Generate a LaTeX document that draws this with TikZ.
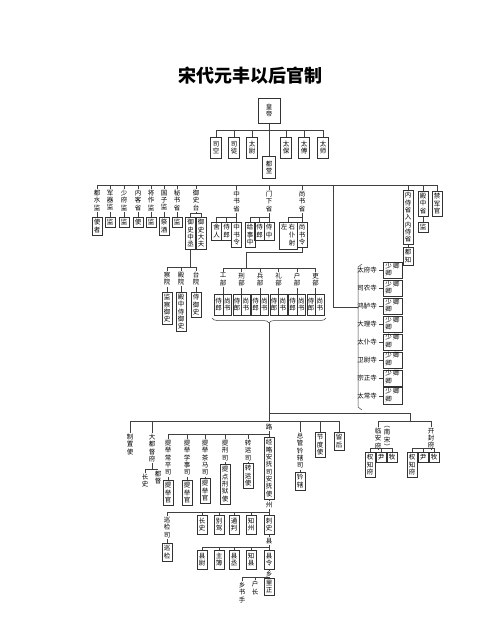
\documentclass[tikz,border=0pt]{standalone}
\usepackage{fontspec}
\newfontfamily\cjk{Noto Sans CJK SC}
\usetikzlibrary{decorations.pathreplacing}
\makeatletter
\newcommand\vt[1]{\edef\vt@arg{#1}\expandafter\vt@do\expandafter{\vt@arg}}
\newcommand\vt@do[1]{\gdef\vt@acc{}\@tfor\vt@c:=#1\do{\xdef\vt@acc{\unexpanded\expandafter{\vt@acc}\ifx\vt@acc\@empty\else\noexpand\\\fi\vt@c}}\vt@acc}
\makeatother
\tikzset{
  every node/.style={font=\cjk\fontsize{6.5}{7.3}\selectfont, inner sep=0pt, align=center, text=black},
  bx/.style={draw=black!80, line width=0.5pt, inner xsep=1.6pt, inner ysep=2.2pt, anchor=north, minimum width=9.5pt},
  lb/.style={inner xsep=1pt, inner ysep=1pt, anchor=north},
  ln/.style={line width=0.5pt, draw=black!75},
}
\begin{document}
\begin{tikzpicture}[x=1pt,y=-1pt]
\useasboundingbox (0,0) rectangle (499,619);
\fill[white] (0,0) rectangle (499,619);
% title
\node[font=\cjk\bfseries\fontsize{18}{20}\selectfont] (title) at (250,76) {宋代元丰以后官制};
% emperor and top ranks
\node[bx,minimum width=22pt,minimum height=25pt] (hd) at (269,98) {\vt{皇帝}};
\foreach \nm/\xx/\tx in {sk/216/司空, st/234/司徒, tw/252/太尉, tb/286/太保, tf/304/太傅, ts/323/太师}
  \node[bx,minimum width=11pt,minimum height=21pt] (\nm) at (\xx,137) {\vt{\tx}};
\node[bx,minimum width=13pt,minimum height=22pt] (dt) at (269,156) {\vt{都堂}};
\coordinate (b1) at (0,130);
\draw[ln] (hd.south) -- (dt.north);
\draw[ln] (sk.north |- b1) -- (ts.north |- b1);
\foreach \nm in {sk,st,tw,tb,tf,ts} \draw[ln] (\nm.north) -- (\nm.north |- b1);
% second level
\coordinate (b2) at (0,185);
\foreach \nm/\xx/\tx/\bt in {dsj/97/都水监/使者, jqj/110/军器监/监, sfj/124/少府监/监, nkx/138/内客省/使, jzj/151/将作监/监, gzj/164/国子监/祭酒, msx/177/秘书省/监} {
  \node[lb] (\nm) at (\xx,189) {\vt{\tx}};
  \node[bx] (\nm B) at (\xx,217) {\vt{\bt}};
  \draw[ln] (\nm.south) -- (\nm B.north);
  \draw[ln] (\nm.north) -- (\nm.north |- b2);
}
% yushitai
\node[lb] (yst) at (196,189) {\vt{御史台}};
\node[bx] (yszc) at (190.5,217) {\vt{御史中丞}};
\node[bx] (ysdf) at (201,217) {\vt{御史大夫}};
\coordinate (b8) at (0,213);
\draw[ln] (yst.north) -- (yst.north |- b2);
\draw[ln] (yst.south) -- (yst.south |- b8);
\draw[ln] (yszc.north |- b8) -- (ysdf.north |- b8);
\draw[ln] (yszc.north) -- (yszc.north |- b8);
\draw[ln] (ysdf.north) -- (ysdf.north |- b8);
\coordinate (b9) at (0,267);
\foreach \nm/\xx/\tx/\bt in {cy/167/察院/监察御史, dy/181/殿院/殿中侍御史, ty/196/台院/侍御史} {
  \node[lb] (\nm) at (\xx,271) {\vt{\tx}};
  \node[bx] (\nm B) at (\xx,292) {\vt{\bt}};
  \draw[ln] (\nm.south) -- (\nm B.north);
  \draw[ln] (\nm.north) -- (\nm.north |- b9);
}
\draw[ln] (cy.north |- b9) -- (ty.north |- b9);
\draw[ln] (yszc.south) -- (yszc.south |- b9);
% zhongshu
\node[lb] (zsx) at (236.5,190) {\vt{中书省}};
\node[bx] (sr) at (216.5,222) {\vt{舍人}};
\node[bx] (zsl) at (226.5,222) {\vt{侍郎}};
\node[bx] (zsling) at (236.5,222) {\vt{中书令}};
\coordinate (b10) at (0,217);
\draw[ln] (zsx.north) -- (zsx.north |- b2);
\draw[ln] (zsx.south) -- (zsling.north);
\draw[ln] (sr.north |- b10) -- (zsling.north |- b10);
\draw[ln] (sr.north) -- (sr.north |- b10);
\draw[ln] (zsl.north) -- (zsl.north |- b10);
% menxia
\node[lb] (mxs) at (269,190) {\vt{门下省}};
\node[bx] (jsz) at (250,222) {\vt{给事中}};
\node[bx] (mxl) at (259.5,222) {\vt{侍郎}};
\node[bx] (szh) at (269,222) {\vt{侍中}};
\draw[ln] (mxs.north) -- (mxs.north |- b2);
\draw[ln] (mxs.south) -- (szh.north);
\draw[ln] (jsz.north |- b10) -- (szh.north |- b10);
\draw[ln] (jsz.north) -- (jsz.north |- b10);
\draw[ln] (mxl.north) -- (mxl.north |- b10);
% shangshu
\node[lb] (ssx) at (302,190) {\vt{尚书省}};
\node[bx,minimum width=18pt,minimum height=23pt] (zypy) at (288,222) {\begin{tabular}{@{}c@{\hspace{1.5pt}}c@{}}左&右\\ &仆\\ &射\end{tabular}};
\node[bx] (ssl) at (302,222) {\vt{尚书令}};
\draw[ln] (ssx.north) -- (ssx.north |- b2);
\draw[ln] (ssx.south) -- (ssl.north);
\draw[ln] (zypy.north |- b10) -- (ssl.north |- b10);
\draw[ln] (zypy.north) -- (zypy.north |- b10);
% six ministries
\coordinate (b6) at (0,268);
\coordinate (j6) at (246,268);
\draw[ln] (ssl.south) -- ++(0,5) -| (j6);
\foreach \i/\xx/\tx in {0/223/工部,1/241.5/刑部,2/260/兵部,3/278.5/礼部,4/297/户部,5/315.5/吏部} {
  \node[lb] (lb\i) at (\xx,272) {\vt{\tx}};
  \node[bx,minimum width=8.6pt,inner xsep=1pt,minimum height=21pt] (sl\i) at (\xx-4.3,294) {\vt{侍郎}};
  \node[bx,minimum width=8.6pt,inner xsep=1pt,minimum height=21pt] (ss\i) at (\xx+4.3,294) {\vt{尚书}};
  \draw[ln] (lb\i.north) -- (lb\i.north |- b6);
  \draw[ln] (lb\i.south) -- (lb\i.south |- ss\i.north);
}
\draw[ln] (lb0.north |- b6) -- (lb5.north |- b6);
\draw[ln,decorate,decoration={brace,amplitude=5pt,mirror}] (212,318) -- (326,318);
\coordinate (tip) at (269,323);
% right top
\node[bx] (nsx) at (408,190) {\vt{内侍省入内侍省}};
\node[bx] (dz) at (408,247) {\vt{都知}};
\node[bx] (dzs) at (423,191) {\vt{殿中省}};
\node[bx] (dzsj) at (423,222) {\vt{监}};
\node[bx] (jjg) at (437,191) {\vt{禁军官}};
\draw[ln] (nsx.south) -- (dz.north);
\draw[ln] (dzs.south) -- (dzsj.north);
\foreach \nm in {nsx,dzs,jjg} \draw[ln] (\nm.north) -- (\nm.north |- b2);
\draw[ln] (dsj.north |- b2) -- (jjg.north |- b2);
% nine si
\coordinate (sjtop) at (333,185);
\coordinate (brk) at (358,307);
\draw[ln] (362,264) -- (358,267) -- (358,407) -- (362,410);
\draw[ln] (sjtop) |- (brk);
\foreach \i/\tx in {0/太府寺,1/司农寺,2/鸿胪寺,3/大理寺,4/太仆寺,5/卫尉寺,6/宗正寺,7/太常寺} {
  \pgfmathsetmacro\yy{270.5+17.9*\i}
  \node[lb,anchor=center] (si\i) at (367,\yy) {\tx};
  \node[bx,anchor=center,minimum width=19pt,minimum height=16pt,inner ysep=0.5pt] (sq\i) at (392.5,\yy) {\begin{tabular}{@{}c@{\hspace{1.5pt}}c@{}}少&卿\\卿&\end{tabular}};
  \draw[ln] ([xshift=1pt]si\i.east) -- (sq\i.west);
}
% lower trunk
\coordinate (b3) at (0,421);
\coordinate (b3r) at (0,413);
\coordinate (kj) at (410,421);
\draw[ln] (tip) -- (tip |- b3);
\draw[ln] (tip |- b3r) -| (kj);
\node[lb] (zzs) at (130,433) {\vt{制置使}};
\node[lb] (ddd) at (152,433) {\vt{大都督府}};
\node[lb] (ddcs) at (145,473) {\vt{长史}};
\node[lb] (ddu) at (158,470) {\vt{都督}};
\coordinate (b11) at (0,469);
\draw[ln] (ddd.south) -- (ddd.south |- b11);
\draw[ln] (ddcs.north |- b11) -- (ddu.north |- b11);
\draw[ln] (ddcs.north) -- (ddcs.north |- b11);
\node[lb] (lu) at (269,423) {路};
\node[lb] (zgqx) at (300,432) {\vt{总管钤辖司}};
\node[bx] (qx) at (300,472) {\vt{钤辖}};
\draw[ln] (zgqx.south) -- (qx.north);
\node[bx] (jds) at (320,432) {\vt{节度使}};
\node[bx] (lh) at (339,432) {\vt{留后}};
\draw[ln] (zzs.north |- b3) -- (lh.north |- b3);
\foreach \nm in {zzs,ddd,zgqx,jds,lh} \draw[ln] (\nm.north) -- (\nm.north |- b3);
% lu level
\coordinate (b4) at (0,434);
\draw[ln] (lu.south) -- (lu.south |- b4);
\foreach \nm/\xx/\tx/\bt/\by in {tjcp/168/提举常平司/提举官/480, tjxs/187/提举学事司/提举官/480, tjcm/205/提举茶马司/提举官/478, tx/225/提刑司/提点刑狱使/464, zy/248/转运司/转运使/463} {
  \node[lb] (\nm) at (\xx,439) {\vt{\tx}};
  \node[bx] (\nm B) at (\xx,\by) {\vt{\bt}};
  \draw[ln] (\nm.south) -- (\nm B.north);
  \draw[ln] (\nm.north) -- (\nm.north |- b4);
}
\node[bx] (jl) at (269,437) {\vt{经略安抚司安抚使}};
\draw[ln] (tjcp.north |- b4) -- (jl.north |- b4);
\draw[ln] (jl.north) -- (jl.north |- b4);
% zhou
\node[lb] (zhou) at (269,501) {州};
\draw[ln] (jl.south) -- (zhou.north);
\coordinate (b5) at (0,512);
\draw[ln] (zhou.south) -- (zhou.south |- b5);
\node[lb] (xjs) at (167,516) {\vt{巡检司}};
\node[bx] (xj) at (167,543) {\vt{巡检}};
\draw[ln] (xjs.south) -- (xj.north);
\foreach \nm/\xx/\tx in {cs/202/长史, bj/219/别驾, tp/234/通判, zz/251/知州, cis/269/刺史}
  \node[bx,minimum height=19pt] (\nm) at (\xx,515) {\vt{\tx}};
\draw[ln] (xjs.north |- b5) -- (cis.north |- b5);
\foreach \nm in {xjs,cs,bj,tp,zz,cis} \draw[ln] (\nm.north) -- (\nm.north |- b5);
% xian
\node[lb] (xian) at (269,537) {县};
\draw[ln] (cis.south) -- (xian.north);
\coordinate (b7) at (0,547);
\draw[ln] (xian.south) -- (xian.south |- b7);
\foreach \nm/\xx/\tx in {xw/202/县尉, zb/219/主簿, xc/234/县丞, zx/251/知县, xl/269/县令}
  \node[bx,minimum height=19pt] (\nm) at (\xx,550) {\vt{\tx}};
\draw[ln] (xw.north |- b7) -- (xl.north |- b7);
\foreach \nm in {xw,zb,xc,zx,xl} \draw[ln] (\nm.north) -- (\nm.north |- b7);
% xiang
\node[lb] (xiang) at (269,570) {乡};
\draw[ln] (xl.south) -- (xiang.north);
\coordinate (b12) at (0,577);
\draw[ln] (xiang.south) -- (xiang.south |- b12);
\node[lb] (xss) at (242,581) {\vt{乡书手}};
\node[lb] (hz) at (255,580) {\vt{户长}};
\node[bx,minimum height=17pt] (lz) at (269,578) {\vt{里正}};
\draw[ln] (xss.north |- b12) -- (lz.north |- b12);
\foreach \nm in {xss,hz} \draw[ln] (\nm.north) -- (\nm.north |- b12);
% fu
\node[lb] (la) at (378,427) {\vt{临安府}};
\node[lb] (ns) at (387,425) {\vt{︵南宋︶}};
\node[lb] (kf) at (431,427) {\vt{开封府}};
\draw[ln] (la.north |- kj) -- (kf.north |- kj);
\draw[ln] (la.north) -- (la.north |- kj);
\draw[ln] (kf.north) -- (kf.north |- kj);
\coordinate (b13) at (0,448);
\foreach \p/\xa/\xb/\xc in {l/370/381/392, k/412/423/434} {
  \node[bx] (\p qz) at (\xa,452) {\vt{权知府}};
  \node[bx] (\p y) at (\xb,452) {尹};
  \node[bx] (\p m) at (\xc,452) {牧};
  \draw[ln] (\p qz.north |- b13) -- (\p m.north |- b13);
  \foreach \q in {qz,y,m} \draw[ln] (\p\q.north) -- (\p\q.north |- b13);
}
\draw[ln] (la.south) -- (la.south |- b13);
\draw[ln] (kf.south) -- (kf.south |- b13);
\end{tikzpicture}
\end{document}
